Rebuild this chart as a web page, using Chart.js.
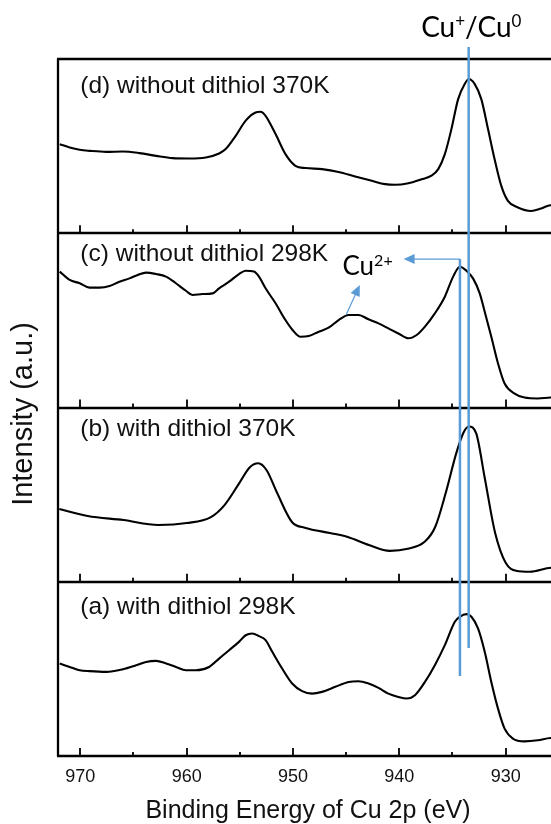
<!DOCTYPE html>
<html>
<head>
<meta charset="utf-8">
<script src="https://cdn.jsdelivr.net/npm/chart.js@4/dist/chart.umd.min.js"></script>
<style>
html,body{margin:0;padding:0;background:#fff;overflow:hidden;width:551px;height:824px;}
#wrap{position:absolute;left:0;top:0;width:620px;height:824px;}
</style>
</head>
<body>
<div id="wrap"><canvas id="c" width="620" height="824"></canvas></div>
<script>
// Binding energies (eV) and intensities (a.u., each panel 0..100)
const energyA = [971.94, 971.0, 970.06, 969.13, 967.56, 966.0, 964.75, 963.82, 962.88, 961.94, 961.01, 960.07, 959.14, 957.89, 956.95, 956.01, 955.08, 954.45, 953.83, 953.2, 952.58, 951.95, 951.02, 950.08, 949.14, 948.21, 947.27, 946.02, 944.77, 943.84, 942.9, 941.96, 941.03, 940.09, 939.31, 938.53, 937.59, 936.66, 935.72, 934.78, 934.31, 933.69, 933.22, 932.6, 931.97, 931.35, 930.72, 930.1, 929.32, 928.23, 926.98, 925.79, 920];
const intensityA = [53.1, 51.1, 49.2, 48.7, 48.3, 49.8, 52.1, 54.0, 54.6, 53.1, 51.1, 49.2, 49.2, 51.1, 55.9, 60.7, 65.5, 69.3, 70.3, 68.8, 66.5, 59.8, 50.2, 41.6, 37.2, 35.8, 36.8, 39.7, 42.5, 42.9, 41.6, 39.1, 35.8, 33.9, 33.0, 34.9, 42.5, 52.1, 63.6, 77.0, 79.9, 81.4, 79.9, 73.2, 59.8, 42.5, 27.2, 15.7, 10.0, 8.4, 9.0, 10.3, 11.0];

const energyB = [971.98, 969.31, 965.94, 962.67, 960.0, 957.72, 956.44, 955.05, 954.06, 953.27, 952.48, 951.49, 950.1, 948.81, 946.53, 944.85, 942.87, 940.89, 939.21, 937.62, 936.63, 935.64, 934.65, 933.96, 933.47, 932.77, 931.98, 930.99, 930.0, 929.01, 927.72, 925.74, 920];
const intensityB = [41.7, 37.7, 35.4, 32.6, 33.7, 37.1, 44.0, 56.6, 65.7, 68.0, 64.0, 50.9, 34.3, 30.9, 28.0, 25.7, 21.1, 17.7, 18.9, 22.9, 31.4, 50.9, 73.7, 85.7, 89.1, 85.1, 60.0, 28.0, 10.9, 6.3, 5.7, 8.0, 8.5];

const energyC = [971.94, 971.0, 970.06, 969.13, 968.19, 967.25, 966.32, 965.38, 964.6, 963.82, 962.88, 961.94, 961.01, 960.07, 959.45, 958.51, 957.57, 956.95, 956.01, 955.08, 954.45, 953.67, 953.2, 952.58, 951.64, 950.71, 950.08, 949.3, 948.52, 947.58, 946.65, 945.71, 944.77, 943.84, 942.9, 941.96, 941.03, 940.09, 939.15, 938.37, 937.59, 936.66, 935.72, 934.94, 934.31, 933.69, 933.07, 932.44, 931.97, 931.35, 930.72, 930.1, 929.16, 928.23, 926.98, 925.79, 920];
const intensityC = [78.0, 73.2, 71.3, 68.8, 68.8, 69.7, 72.2, 74.1, 76.1, 77.4, 76.6, 75.1, 71.3, 67.0, 64.6, 65.1, 65.5, 68.4, 72.2, 76.6, 78.5, 78.0, 75.1, 68.4, 59.8, 50.2, 44.8, 40.6, 41.0, 43.5, 45.8, 50.2, 53.1, 53.1, 50.6, 48.3, 45.4, 42.5, 39.7, 41.6, 46.4, 54.0, 63.6, 75.1, 80.8, 78.5, 74.1, 65.5, 55.0, 40.6, 25.3, 13.8, 8.0, 5.7, 5.2, 5.7, 6.0];

const energyD = [971.94, 971.0, 970.06, 969.13, 967.56, 966.0, 964.44, 962.88, 961.32, 959.76, 958.2, 956.95, 956.33, 955.39, 954.45, 953.52, 953.05, 952.58, 951.64, 950.71, 949.77, 948.83, 947.27, 945.71, 944.15, 942.59, 941.34, 940.4, 939.15, 937.91, 936.97, 936.34, 935.72, 935.1, 934.47, 933.85, 933.47, 932.91, 932.29, 931.66, 931.04, 930.41, 929.79, 928.85, 927.6, 926.67, 925.79, 920];
const intensityD = [51.1, 49.2, 47.9, 47.3, 46.7, 46.9, 46.0, 44.4, 43.1, 42.9, 43.5, 45.8, 48.3, 55.9, 64.6, 69.3, 69.7, 67.4, 56.9, 45.4, 38.7, 37.4, 36.8, 35.2, 32.6, 30.1, 28.2, 27.8, 28.7, 31.0, 33.0, 36.8, 45.4, 59.8, 77.0, 85.6, 88.5, 85.6, 77.0, 59.8, 42.5, 27.2, 18.6, 14.8, 12.8, 14.2, 16.1, 17.0];

const panelLabels = ["(a) with dithiol 298K", "(b) with dithiol 370K", "(c) without dithiol 298K", "(d) without dithiol 370K"];
const majorTicks = [970, 960, 950, 940, 930, 920];
const minorTicks = [965, 955, 945, 935, 925];
const tickLabels = ["970", "960", "950", "940", "930"];

// reference lines (eV)
const cuMetalEnergy = 933.48;   // Cu+/Cu0
const cu2Energy = 934.3;        // Cu2+ reference
const cu2ArrowEnd = 939.6;

const panelSpan = 100;
const series = [[energyA, intensityA], [energyB, intensityB], [energyC, intensityC], [energyD, intensityD]];
const datasets = series.map((s, i) => ({
  data: s[0].map((e, k) => ({x: e, y: s[1][k] + i * panelSpan})),
  borderColor: '#000', borderWidth: 2.1, pointRadius: 0, fill: false,
  cubicInterpolationMode: 'monotone'
}));

const SANS = '"Liberation Sans", Arial, sans-serif';
const BLUE = '#5B9BD5';

const decor = {
  id: 'decor',
  beforeDatasetsDraw(chart) {
    const {ctx, chartArea: a, scales: {x, y}} = chart;
    ctx.save();
    ctx.strokeStyle = '#000';
    ctx.lineWidth = 2.3;
    ctx.beginPath();
    ctx.moveTo(a.left, a.top); ctx.lineTo(a.left, a.bottom);
    for (let i = 0; i <= 4; i++) {
      const py = Math.round(y.getPixelForValue(i * panelSpan));
      ctx.moveTo(a.left - 1, py); ctx.lineTo(a.right, py);
    }
    ctx.stroke();
    ctx.lineWidth = 1.8;
    ctx.beginPath();
    for (let i = 0; i < 4; i++) {
      const py = y.getPixelForValue(i * panelSpan);
      majorTicks.forEach(t => { const px = Math.round(x.getPixelForValue(t)); ctx.moveTo(px, py); ctx.lineTo(px, py - 8); });
      minorTicks.forEach(t => { const px = Math.round(x.getPixelForValue(t)); ctx.moveTo(px, py); ctx.lineTo(px, py - 4); });
    }
    ctx.stroke();
    // tick labels
    ctx.fillStyle = '#111';
    ctx.font = '18px ' + SANS;
    ctx.textAlign = 'center'; ctx.textBaseline = 'alphabetic';
    tickLabels.forEach(t => ctx.fillText(t, x.getPixelForValue(+t), 782));
    // axis titles
    ctx.font = '25px ' + SANS;
    ctx.fillText('Binding Energy of Cu 2p (eV)', 308, 818);
    ctx.save();
    ctx.translate(32, 414); ctx.rotate(-Math.PI / 2);
    ctx.font = '29px ' + SANS;
    ctx.fillText('Intensity (a.u.)', 0, 0);
    ctx.restore();
    // panel labels
    ctx.font = '24.5px ' + SANS;
    ctx.textAlign = 'left';
    const labelOffsets = [32, 28, 28, 34];
    panelLabels.forEach((t, i) => {
      const top = y.getPixelForValue((i + 1) * panelSpan);
      ctx.fillText(t, x.getPixelForValue(970), top + labelOffsets[i]);
    });
    ctx.restore();
  },
  afterDatasetsDraw(chart) {
    const {ctx, scales: {x, y}} = chart;
    ctx.save();
    ctx.strokeStyle = BLUE; ctx.fillStyle = BLUE;
    ctx.lineWidth = 2.5;
    const x1 = x.getPixelForValue(cuMetalEnergy);
    const x2 = x.getPixelForValue(cu2Energy);
    ctx.beginPath();
    ctx.moveTo(x1, y.getPixelForValue(406.9)); ctx.lineTo(x1, y.getPixelForValue(62.0));
    ctx.moveTo(x2, y.getPixelForValue(285.2)); ctx.lineTo(x2, y.getPixelForValue(45.9));
    ctx.stroke();
    // arrows
    function arrow(e0, v0, e1, v1) {
      const ax = x.getPixelForValue(e0), ay = y.getPixelForValue(v0);
      const bx = x.getPixelForValue(e1), by = y.getPixelForValue(v1);
      const ang = Math.atan2(by - ay, bx - ax);
      const L = 11, W = 5;
      ctx.lineWidth = 1.2;
      ctx.beginPath();
      ctx.moveTo(ax, ay);
      ctx.lineTo(bx - Math.cos(ang) * L * 0.8, by - Math.sin(ang) * L * 0.8);
      ctx.stroke();
      ctx.beginPath();
      ctx.moveTo(bx, by);
      ctx.lineTo(bx - Math.cos(ang) * L - Math.sin(ang) * W, by - Math.sin(ang) * L + Math.cos(ang) * W);
      ctx.lineTo(bx - Math.cos(ang) * L + Math.sin(ang) * W, by - Math.sin(ang) * L - Math.cos(ang) * W);
      ctx.closePath(); ctx.fill();
    }
    arrow(cu2Energy, 285.2, cu2ArrowEnd, 285.2);
    arrow(944.97, 253.7, 943.72, 270.3);
    // labels
    ctx.fillStyle = '#000';
    ctx.textBaseline = 'alphabetic'; ctx.textAlign = 'left';
    function supText(parts, px, py, size) {
      let cx = px;
      parts.forEach(([t, sup]) => {
        ctx.font = (sup ? Math.round(size * 0.62) : size) + 'px Lato, "Open Sans", sans-serif';
        ctx.fillText(t, cx, sup ? py - size * 0.36 : py);
        cx += ctx.measureText(t).width;
      });
    }
    supText([['Cu', 0], ['+', 1], ['/Cu', 0], ['0', 1]], x.getPixelForValue(937.95), y.getPixelForValue(412.6), 28);
    supText([['Cu', 0], ['2+', 1]], x.getPixelForValue(945.35), y.getPixelForValue(276.0), 26);
    ctx.restore();
  }
};

new Chart(document.getElementById('c'), {
  type: 'line',
  data: {datasets},
  options: {
    responsive: false, devicePixelRatio: 1, animation: false,
    layout: {padding: {left: 58, right: 8, top: 59, bottom: 68}},
    plugins: {legend: {display: false}, tooltip: {enabled: false}},
    scales: {
      x: {type: 'linear', reverse: true, min: 920, max: 972.1, display: false},
      y: {type: 'linear', min: 0, max: 4 * panelSpan, display: false}
    }
  },
  plugins: [decor]
});
</script>
</body>
</html>
